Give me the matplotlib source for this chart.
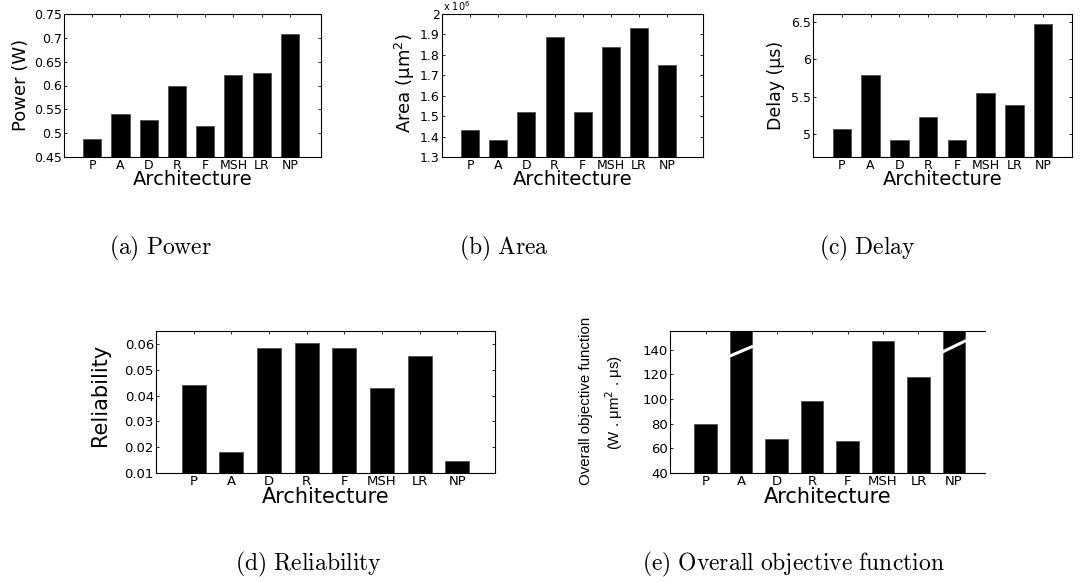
import matplotlib
matplotlib.use("Agg")
import matplotlib.pyplot as plt

# architectures on the x axis
arch = ["P", "A", "D", "R", "F", "MSH", "LR", "NP"]

# values
power_w = [0.487, 0.541, 0.528, 0.599, 0.515, 0.622, 0.627, 0.707]
area_um2 = [1.43e6, 1.385e6, 1.52e6, 1.885e6, 1.52e6, 1.84e6, 1.93e6, 1.75e6]
delay_us = [5.07, 5.79, 4.92, 5.23, 4.92, 5.55, 5.39, 6.47]
reliability = [0.044, 0.018, 0.0585, 0.0603, 0.0583, 0.043, 0.0555, 0.0148]
# A and NP run off the top of the axis (drawn as broken bars)
overall = [80, 250, 67.5, 98.5, 66, 147, 117.5, 300]
overall_breaks = {1: (134.4, 142.7), 7: (137.8, 147.3)}

plt.rcParams["font.family"] = ["DejaVu Sans"]

W, H = 1080, 582
fig = plt.figure(figsize=(W / 100, H / 100), dpi=100)


def px_axes(l, r, t, b):
    # axes placed with pixel edges (from the top-left corner)
    return fig.add_axes([l / W, 1 - b / H, (r - l) / W, (b - t) / H])


def bar_panel(ax, values, ylim, yticks, xlim, tsize=9, xlsize=14, xloff=28):
    x = list(range(1, len(arch) + 1))
    ax.bar(x, values, width=0.64, color="black", edgecolor="#444444", linewidth=0.5)
    ax.set_xlim(*xlim)
    ax.set_ylim(*ylim)
    ax.set_xticks(x)
    ax.set_xticklabels(arch)
    ax.set_yticks(yticks)
    ax.set_yticklabels([f"{v:g}" for v in yticks])
    ax.tick_params(direction="in", top=True, right=True, length=2.5, width=0.6,
                   labelsize=tsize)
    ax.tick_params(axis="x", pad=1.5)
    ax.tick_params(axis="y", pad=1.5)
    for s in ax.spines.values():
        s.set_linewidth(0.8)
    cx = (ax.get_position().x0 + ax.get_position().x1) / 2
    base = ax.get_position().y0 - xloff / H
    fig.text(cx, base, "Architecture", fontsize=xlsize, ha="center", va="baseline")


def ylab(x_px, y_px, txt, size, **kw):
    fig.text(x_px / W, 1 - y_px / H, txt, rotation=90, ha="center", va="center",
             fontsize=size, **kw)


def caption(x_px, y_px, txt):
    fig.text(x_px / W, 1 - y_px / H, txt, fontsize=17, ha="center", va="baseline",
             math_fontfamily="cm")


# (a) power
ax = px_axes(64, 321, 14, 157)
bar_panel(ax, power_w, (0.45, 0.75), [0.45, 0.5, 0.55, 0.6, 0.65, 0.7, 0.75], (0, 9.1))
ylab(21, 85, "Power (W)", 13)

# (b) area
ax = px_axes(442, 703, 14, 157)
bar_panel(ax, [v / 1e6 for v in area_um2], (1.3, 2.0),
          [1.3, 1.4, 1.5, 1.6, 1.7, 1.8, 1.9, 2.0], (0, 9.28))
fig.text(443 / W, 1 - 6 / H, r"x 10$^{6}$", fontsize=7, ha="left", va="center")
ylab(405, 83, "Area (μm$^{2}$)", 13)

# (c) delay
ax = px_axes(813, 1072, 14, 157)
bar_panel(ax, delay_us, (4.7, 6.6), [5, 5.5, 6, 6.5], (0, 9))
ylab(776, 85, "Delay (μs)", 12.5)

# (d) reliability
ax = px_axes(156, 495, 331, 473)
bar_panel(ax, reliability, (0.01, 0.065), [0.01, 0.02, 0.03, 0.04, 0.05, 0.06], (0, 9),
          tsize=9.5, xlsize=15, xloff=30)
ylab(100, 395, "Reliability", 15)

# (e) overall objective function
ax = px_axes(670, 985, 331, 473)
bar_panel(ax, overall, (40, 155), [40, 60, 80, 100, 120, 140], (0, 315 / 35.5),
          tsize=9.5, xlsize=15, xloff=30)
ax.spines["right"].set_visible(False)
ax.tick_params(right=False)
for i, (y0, y1) in overall_breaks.items():
    xc = i + 1
    ax.plot([xc - 0.34, xc + 0.34], [y0, y1], color="white", lw=2.2,
            solid_capstyle="butt")
ylab(586, 401, "Overall objective function", 10.8, family="Liberation Sans")
ylab(614, 403, "(W . μm$^{2}$ . μs)", 10.8, family="Liberation Sans")

# sub-figure captions
caption(161, 254, r"$\mathrm{(a)\ Power}$")
caption(504, 254, r"$\mathrm{(b)\ Area}$")
caption(867, 254, r"$\mathrm{(c)\ Delay}$")
caption(308, 570, r"$\mathrm{(d)\ Reliability}$")
caption(793, 570, r"$\mathrm{(e)\ Overall\ objective\ function}$")

fig.savefig("out.png", dpi=100)
